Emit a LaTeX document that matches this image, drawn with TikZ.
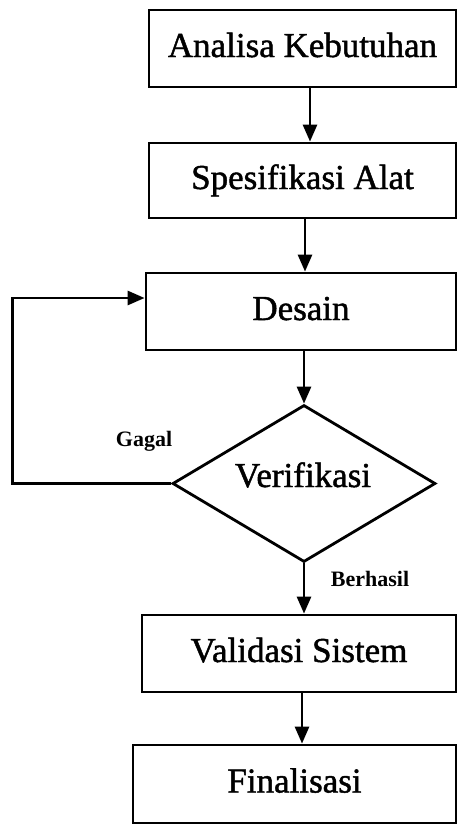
\documentclass[tikz,border=0pt]{standalone}
\usepackage{fontspec}
\setmainfont{Liberation Serif}
\newfontfamily\heavyserif[FakeBold=1.3]{Liberation Serif}
\usetikzlibrary{shapes.geometric,arrows.meta}
\begin{document}
\begin{tikzpicture}[x=1pt,y=1pt,
  box/.style={draw, line width=2.8pt, rectangle, inner sep=0pt,
    font=\heavyserif\fontsize{35}{40}\selectfont, text height=24pt, text depth=7pt},
  dec/.style={draw, diamond, line width=2.8pt, inner sep=0pt,
    minimum width=263pt, minimum height=157pt},
  flow/.style={draw, line width=2.8pt, -{Triangle[length=17pt,width=14pt]}},
  lbl/.style={font=\bfseries\fontsize{22}{26}\selectfont, inner sep=0pt},
  big/.style={font=\heavyserif\fontsize{35}{40}\selectfont, inner sep=0pt}
]
\useasboundingbox (0,0) rectangle (458,-825);

\node[box, minimum width=307pt, minimum height=77pt] (A) at (302.5,-48.5) {Analisa Kebutuhan};
\node[box, minimum width=307pt, minimum height=75pt] (S) at (302.5,-180.5) {Spesifikasi Alat};
\node[box, minimum width=310pt, minimum height=77pt] (D) at (301,-311.5) {Desain};
\node[dec] (Dm) at (304,-483.5) {};
\node[big, anchor=base] (Vt) at (303,-487) {Verifikasi};
\node[box, minimum width=314pt, minimum height=77pt] (V) at (299,-653.5) {Validasi Sistem};
\node[box, minimum width=323pt, minimum height=78pt] (F) at (294.5,-784) {Finalisasi};

\node[lbl] (gagal) at (144,-441) {Gagal};
\node[lbl] (berhasil) at (370,-579) {Berhasil};

\draw[flow] ([xshift=7.5pt]A.south) -- ([xshift=7.5pt]A.south |- S.north);
\draw[flow] ([xshift=2.5pt]S.south) -- ([xshift=2.5pt]S.south |- D.north);
\draw[flow] (D.south -| Dm.north) -- (Dm.north);
\draw[flow] (Dm.south) -- (Dm.south |- V.north);
\draw[flow] ([xshift=3pt]V.south) -- ([xshift=3pt]V.south |- F.north);
\draw[flow] (Dm.west) -- ++(-159,0) |- ([yshift=13.5pt]D.west);
\end{tikzpicture}
\end{document}
